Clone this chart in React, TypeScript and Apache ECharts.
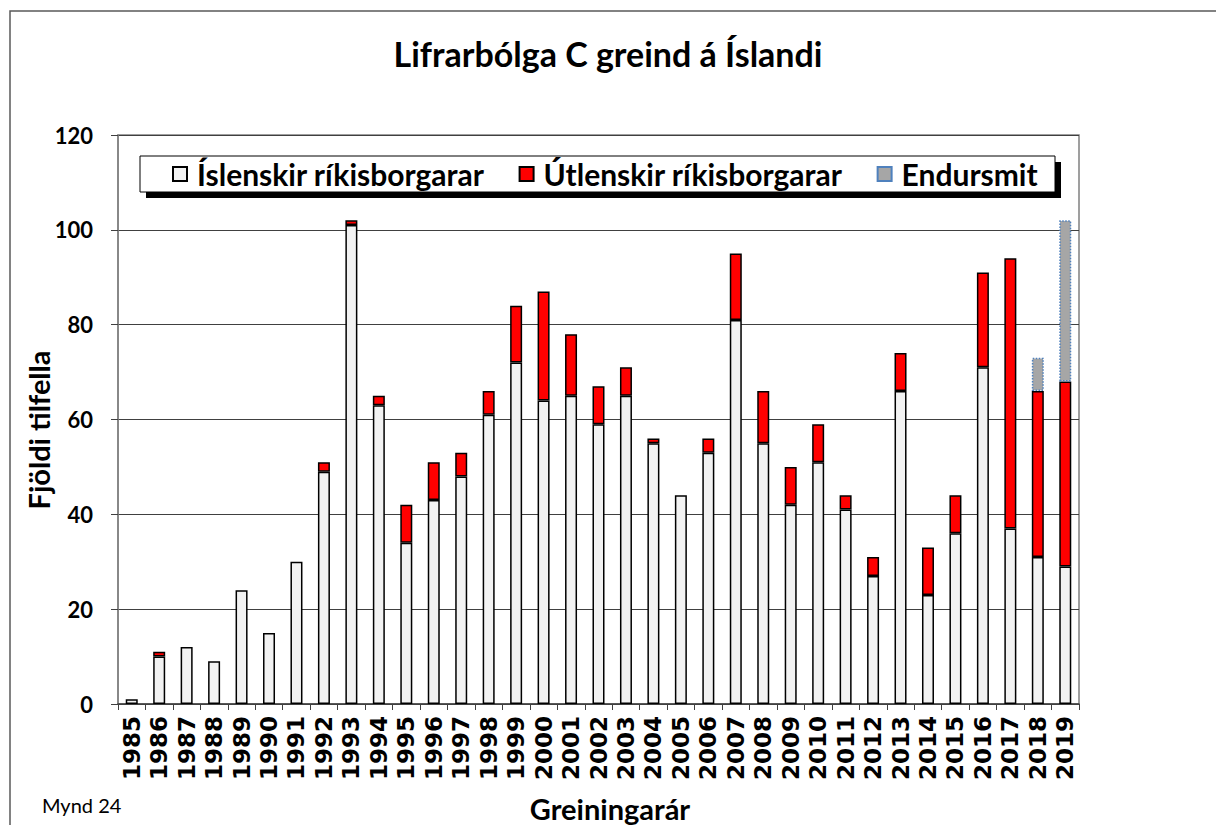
import React, { useEffect, useRef } from "react";
import * as echarts from "echarts";

const years = [
  "1985", "1986", "1987", "1988", "1989", "1990", "1991", "1992", "1993", "1994",
  "1995", "1996", "1997", "1998", "1999", "2000", "2001", "2002", "2003", "2004",
  "2005", "2006", "2007", "2008", "2009", "2010", "2011", "2012", "2013", "2014",
  "2015", "2016", "2017", "2018", "2019",
];
const icelandic = [
  1, 10, 12, 9, 24, 15, 30, 49, 101, 63, 34, 43, 48, 61, 72, 64, 65, 59, 65, 55,
  44, 53, 81, 55, 42, 51, 41, 27, 66, 23, 36, 71, 37, 31, 29,
];
const foreign = [
  0, 1, 0, 0, 0, 0, 0, 2, 1, 2, 8, 8, 5, 5, 12, 23, 13, 8, 6, 1,
  0, 3, 14, 11, 8, 8, 3, 4, 8, 10, 8, 20, 57, 35, 39,
];
const reinfection = [
  0, 0, 0, 0, 0, 0, 0, 0, 0, 0, 0, 0, 0, 0, 0, 0, 0, 0, 0, 0,
  0, 0, 0, 0, 0, 0, 0, 0, 0, 0, 0, 0, 0, 7, 34,
];
const yTicks = { min: 0, max: 120, interval: 20 };
const seriesNames = ["Íslenskir ríkisborgarar", "Útlenskir ríkisborgarar", "Endursmit"];

const FONT = "Lato";

const nz = (arr: number[]) => arr.map((v) => (v === 0 ? "-" : v));

export default function App() {
  const ref = useRef<HTMLDivElement>(null);
  useEffect(() => {
    if (!ref.current) return;
    const chart = echarts.init(ref.current, null, { renderer: "svg" });
    chart.setOption({
      animation: false,
      backgroundColor: "#ffffff",
      title: {
        text: "Lifrarbólga C greind á Íslandi",
        left: "center",
        top: 31,
        textStyle: { fontFamily: FONT, fontWeight: "bold", fontSize: 34, color: "#000" },
      },
      graphic: [
        {
          type: "rect",
          z: -1,
          shape: { x: 10, y: 11, width: 1230, height: 840 },
          style: { fill: "none", stroke: "#595959", lineWidth: 1.5 },
        },
        {
          type: "rect",
          z: 1,
          shape: { x: 146, y: 162, width: 915, height: 36 },
          style: { fill: "#000" },
        },
        {
          type: "rect",
          z: 1,
          shape: { x: 140, y: 156, width: 915, height: 36 },
          style: { fill: "#fff", stroke: "#000", lineWidth: 1 },
        },
        {
          type: "text",
          z: 2,
          x: 42,
          y: 805,
          style: {
            text: "Mynd 24",
            fontFamily: FONT,
            fontSize: 20,
            fill: "#000",
            verticalAlign: "middle",
          },
        },
        {
          type: "text",
          z: 2,
          x: 38,
          y: 430,
          rotation: Math.PI / 2,
          style: {
            text: "Fjöldi tilfella",
            fontFamily: FONT,
            fontWeight: "bold",
            fontSize: 29,
            fill: "#000",
            align: "center",
            verticalAlign: "middle",
          },
        },
        {
          type: "text",
          z: 2,
          x: 610,
          y: 808,
          style: {
            text: "Greiningarár",
            fontFamily: FONT,
            fontWeight: "bold",
            fontSize: 29,
            fill: "#000",
            align: "center",
            verticalAlign: "middle",
          },
        },
      ],
      legend: {
        z: 10,
        left: 172,
        top: 159,
        padding: 0,
        icon: "rect",
        itemGap: 34,
        itemWidth: 14,
        itemHeight: 14,
        textStyle: {
          fontFamily: FONT,
          fontWeight: "bold",
          fontSize: 30,
          lineHeight: 30,
          color: "#000",
          padding: [0, 0, 0, 5],
        },
        data: seriesNames,
      },
      grid: {
        left: 118,
        top: 135,
        right: 137,
        bottom: 121,
        outerBoundsMode: "none",
        containLabel: false,
        show: true,
        backgroundColor: "#fff",
        borderColor: "#808080",
        borderWidth: 1.5,
      },
      xAxis: {
        type: "category",
        data: years,
        axisLine: { lineStyle: { color: "#404040", width: 1.5 } },
        axisTick: { show: true, length: 6, lineStyle: { color: "#404040" } },
        axisLabel: {
          rotate: 90,
          interval: 0,
          margin: 12,
          fontFamily: "DejaVu Sans",
          fontWeight: "bold",
          fontSize: 23,
          color: "#000",
        },
      },
      yAxis: {
        type: "value",
        min: yTicks.min,
        max: yTicks.max,
        interval: yTicks.interval,
        axisLine: { show: true, lineStyle: { color: "#808080", width: 1.5 } },
        axisTick: { show: true, length: 7, lineStyle: { color: "#404040" } },
        axisLabel: { fontFamily: FONT, fontWeight: "bold", fontSize: 22, color: "#000", margin: 25 },
        splitLine: { show: true, lineStyle: { color: "#404040", width: 1 } },
      },
      series: [
        {
          name: seriesNames[0],
          type: "bar",
          stack: "total",
          barWidth: 12,
          data: nz(icelandic),
          itemStyle: { color: "#f2f2f2", borderColor: "#000", borderWidth: 1.5 },
        },
        {
          name: seriesNames[1],
          type: "bar",
          stack: "total",
          barWidth: 12,
          data: nz(foreign),
          itemStyle: { color: "#ff0000", borderColor: "#000", borderWidth: 1.5 },
        },
        {
          name: seriesNames[2],
          type: "bar",
          stack: "total",
          barWidth: 12,
          data: nz(reinfection),
          itemStyle: { color: "#a6a6a6", borderColor: "#4f81bd", borderWidth: 1.5, borderType: "dotted" },
        },
      ],
    });
    return () => chart.dispose();
  }, []);
  return (
    <div
      ref={ref}
      style={{ position: "fixed", left: 0, top: 0, width: 1216, height: 825 }}
    />
  );
}
